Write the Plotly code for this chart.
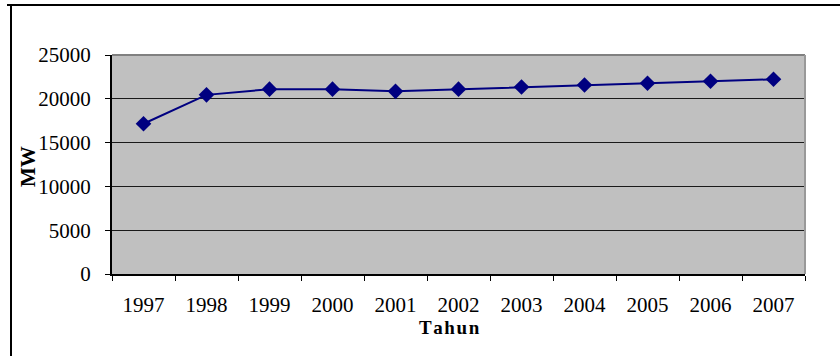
import plotly.graph_objects as go

# Annual peak load data
years = ["1997", "1998", "1999", "2000", "2001", "2002",
         "2003", "2004", "2005", "2006", "2007"]
beban_mw = [17150, 20450, 21100, 21100, 20850, 21100,
            21350, 21580, 21780, 22000, 22230]
y_ticks = [0, 5000, 10000, 15000, 20000, 25000]
y_tick_labels = ["0", "5000", "10000", "15000", "20000", "25000"]

W, H = 840, 356
L, R, T, B = 112, 35, 55, 82
PW, PH = W - L - R, H - T - B


def px_x(x):
    return (x - L) / PW


def px_y(y):
    return (H - B - y) / PH


serif = "Liberation Serif, Times New Roman, serif"
HS = "\u200a"

fig = go.Figure()
fig.add_trace(go.Scatter(
    x=years, y=beban_mw, mode="lines+markers",
    line=dict(color="#000080", width=2),
    marker=dict(symbol="diamond", size=12, color="#000080"),
    showlegend=False,
))

fig.update_layout(
    width=W, height=H,
    margin=dict(l=L, r=R, t=T, b=B),
    paper_bgcolor="white",
    plot_bgcolor="#C0C0C0",
    font=dict(family=serif, size=21, color="black"),
    xaxis=dict(
        type="category", range=[-0.5, 10.5],
        tickson="boundaries", ticks="outside", ticklen=5,
        tickcolor="black", tickwidth=1,
        showgrid=False, showline=True, linecolor="black", linewidth=2,
        ticklabelstandoff=11,
        tickfont=dict(family=serif, size=21),
    ),
    yaxis=dict(
        range=[0, 25000], tickvals=y_ticks, ticktext=y_tick_labels,
        ticks="outside", ticklen=5, tickcolor="black", tickwidth=1,
        showgrid=True, gridcolor="#1a1a1a", gridwidth=1,
        zeroline=False, showline=True, linecolor="black", linewidth=2,
        ticklabelstandoff=10,
        tickfont=dict(family=serif, size=21),
    ),
)

# grey top and right borders of the plot area
fig.add_shape(type="line", xref="paper", yref="paper",
              x0=0, x1=1, y0=1, y1=1, line=dict(color="#808080", width=2))
fig.add_shape(type="line", xref="paper", yref="paper",
              x0=1, x1=1, y0=0, y1=1, line=dict(color="#999999", width=2))

# outer frame (left and top edges)
fig.add_shape(type="line", xref="paper", yref="paper",
              x0=px_x(11), x1=px_x(11), y0=px_y(5), y1=px_y(H + 2),
              line=dict(color="black", width=2))
fig.add_shape(type="line", xref="paper", yref="paper",
              x0=px_x(7), x1=px_x(W + 2), y0=px_y(5), y1=px_y(5),
              line=dict(color="black", width=2))

# axis titles
fig.add_annotation(text="<b>" + HS.join("Tahun") + "</b>",
                   xref="paper", yref="paper",
                   x=px_x(449), y=px_y(327), showarrow=False,
                   font=dict(family=serif, size=19, color="black"),
                   xanchor="center", yanchor="middle")
fig.add_annotation(text="<b>MW</b>", xref="paper", yref="paper",
                   x=px_x(28), y=px_y(167), showarrow=False, textangle=-90,
                   font=dict(family=serif, size=21, color="black"),
                   xanchor="center", yanchor="middle")

fig.write_html("out.html")
